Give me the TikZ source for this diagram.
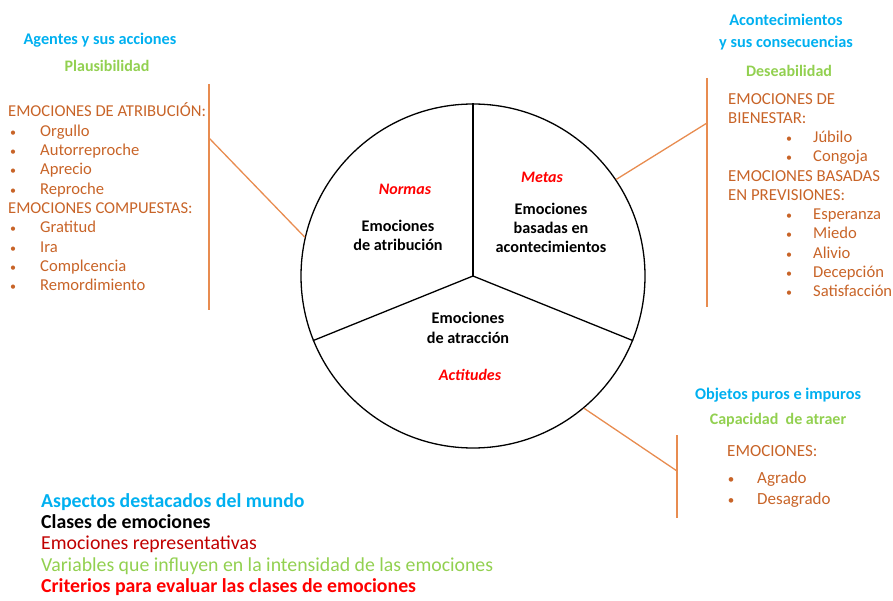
\documentclass[tikz,border=0pt]{standalone}
\usepackage{fontspec}
\setmainfont{Carlito}
\definecolor{cblue}{RGB}{0,176,240}
\definecolor{cgreen}{RGB}{146,208,80}
\definecolor{corange}{RGB}{232,140,80}
\definecolor{ctext}{RGB}{200,100,40}
\definecolor{cred}{RGB}{255,0,0}
\definecolor{cdred}{RGB}{192,0,0}
\begin{document}
\begin{tikzpicture}[x=1pt,y=-1pt,
  aspect/.style={font=\fontsize{16.3}{22}\selectfont\bfseries, text=cblue, align=center, inner sep=0},
  variab/.style={font=\fontsize{16}{18}\selectfont\bfseries, text=cgreen, inner sep=0},
  listline/.style={font=\fontsize{16.6}{19.3}\selectfont, text=ctext, anchor=base west, inner sep=0},
  rlist/.style={font=\fontsize{16.8}{19.3}\selectfont, text=ctext, anchor=base west, inner sep=0},
  bul/.style={font=\fontsize{12}{19.3}\selectfont, text=ctext, anchor=base, inner sep=0},
  classtxt/.style={font=\fontsize{16.2}{19}\selectfont\bfseries, align=center, inner sep=0},
  crit/.style={font=\fontsize{16}{19}\selectfont\bfseries\itshape, text=cred, inner sep=0},
  legend/.style={font=\fontsize{19.8}{21}\selectfont, anchor=base west, inner sep=0},
  legendb/.style={font=\fontsize{19.8}{21}\selectfont\bfseries, anchor=base west, inner sep=0},
  bracket/.style={draw=corange, line width=1.3pt},
  conn/.style={draw=corange, line width=1.3pt}
]
\useasboundingbox (0,0) rectangle (893,601);

% circle
\node[circle, draw=black, line width=1.3pt, minimum size=344pt, inner sep=0] (c) at (473,276) {};
\draw[line width=1.3pt] (c.center) -- (c.90);
\draw[line width=1.3pt] (c.center) -- (c.202);
\draw[line width=1.3pt] (c.center) -- (c.-22);

\node[crit] (normas) at (405,189) {Normas};
\node[classtxt] (catr) at (398,235) {Emociones\\de atribución};
\node[crit] (metas) at (542,177) {Metas};
\node[classtxt] (cacon) at (551,228) {Emociones\\basadas en\\acontecimientos};
\node[classtxt, font=\fontsize{16.2}{20}\selectfont\bfseries] (catra) at (468,328) {Emociones\\de atracción};
\node[crit] (actit) at (470,375) {Actitudes};

% left panel
\node[aspect] (agentes) at (100,40) {Agentes y sus acciones};
\node[variab] (plaus) at (107,66) {Plausibilidad};
\coordinate (lb1) at (209,84);
\coordinate (lb2) at (209,310);
\coordinate (lbc) at (209,138);
\draw[bracket] (lb1) -- (lb2);
\draw[conn] (lbc) -- (c.167);
\node[listline] (l0) at (8,117) {EMOCIONES DE ATRIBUCIÓN:};
\foreach \t [count=\i] in {Orgullo,Autorreproche,Aprecio,Reproche}{
  \node[bul] (lb\i) at (13,117+19.3*\i) {•};
  \node[listline] (li\i) at (40,117+19.3*\i) {\t};
}
\node[listline] (l5) at (8,213.5) {EMOCIONES COMPUESTAS:};
\foreach \t [count=\i] in {Gratitud,Ira,Complcencia,Remordimiento}{
  \node[bul] (lc\i) at (13,213.5+19.3*\i) {•};
  \node[listline] (lk\i) at (40,213.5+19.3*\i) {\t};
}

% right panel
\node[aspect] (acont) at (786,32) {Acontecimientos\\y sus consecuencias};
\node[variab] (deseab) at (789,71) {Deseabilidad};
\coordinate (rb1) at (707,78);
\coordinate (rb2) at (707,307);
\coordinate (rbc) at (707,123);
\draw[bracket] (rb1) -- (rb2);
\draw[conn] (rbc) -- (c.34.7);
\node[rlist] (r0) at (728,105) {EMOCIONES DE};
\node[rlist] (r1) at (728,124) {BIENESTAR:};
\foreach \t [count=\i] in {Júbilo,Congoja}{
  \node[bul] (rbb\i) at (789,124+19*\i) {•};
  \node[listline] (rbi\i) at (813,124+19*\i) {\t};
}
\node[rlist] (r2) at (728,182) {EMOCIONES BASADAS};
\node[rlist] (r3) at (728,201) {EN PREVISIONES:};
\foreach \t [count=\i] in {Esperanza,Miedo,Alivio,Decepción,Satisfacción}{
  \node[bul] (rpb\i) at (789,200.5+19.2*\i) {•};
  \node[listline] (rpi\i) at (813,200.5+19.2*\i) {\t};
}

% bottom right panel
\node[aspect] (objetos) at (778,395) {Objetos puros e impuros};
\node[variab] (capac) at (778,420) {Capacidad\ \ de atraer};
\coordinate (bb1) at (677,435);
\coordinate (bb2) at (677,518);
\coordinate (bbc) at (677,471);
\draw[bracket] (bb1) -- (bb2);
\draw[conn] (bbc) -- (c.-50.2);
\node[listline, font=\fontsize{17}{21}\selectfont] (b0) at (727,456) {EMOCIONES:};
\node[bul, font=\fontsize{13}{21}\selectfont] (bbu1) at (731,483) {•};
\node[listline, font=\fontsize{17}{21}\selectfont] (bi1) at (757,483) {Agrado};
\node[bul, font=\fontsize{13}{21}\selectfont] (bbu2) at (731,504) {•};
\node[listline, font=\fontsize{17}{21}\selectfont] (bi2) at (757,504) {Desagrado};

% legend
\node[legendb, text=cblue] (g1) at (41,507) {Aspectos destacados del mundo};
\node[legendb, text=black] (g2) at (41,528) {Clases de emociones};
\node[legend, text=cdred] (g3) at (41,549) {Emociones representativas};
\node[legend, text=cgreen] (g4) at (41,571) {Variables que influyen en la intensidad de las emociones};
\node[legendb, text=cred] (g5) at (41,592) {Criterios para evaluar las clases de emociones};
\end{tikzpicture}
\end{document}
